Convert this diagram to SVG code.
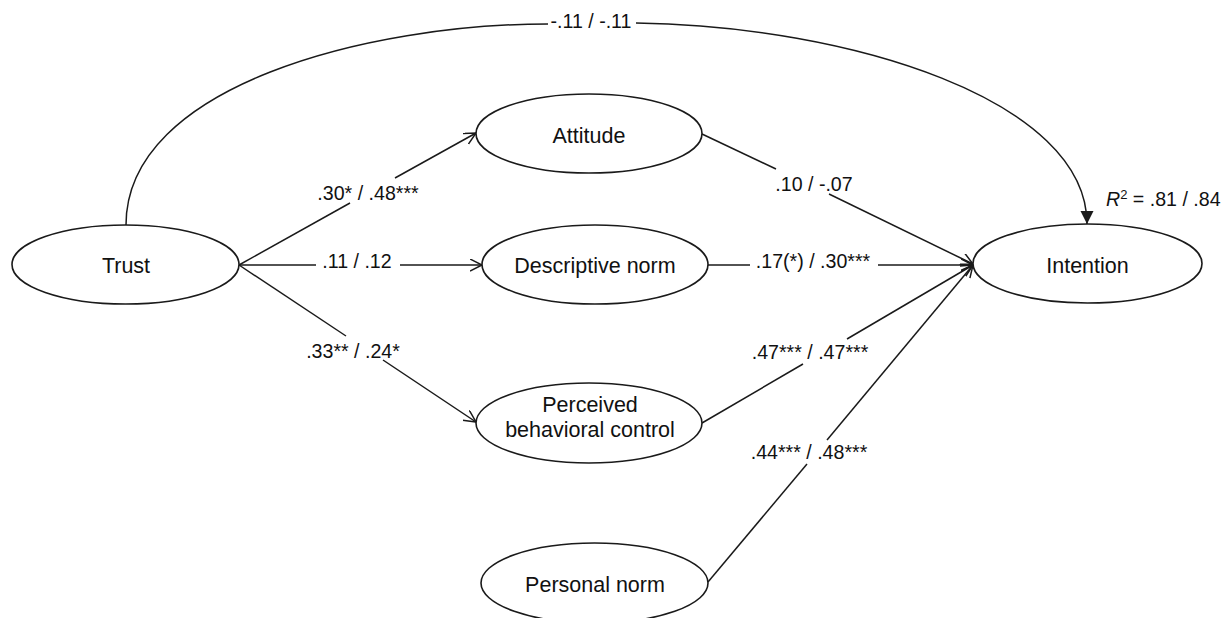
<svg xmlns="http://www.w3.org/2000/svg" width="1230" height="618" viewBox="0 0 1230 618">
<defs>
<style>
.node ellipse{fill:#fff;stroke:#1a1a1a;stroke-width:1.6}
.node text{font-family:"Liberation Sans",Arial,sans-serif;font-size:21.5px;fill:#111;text-anchor:middle}
.conn line,.conn path{stroke:#1a1a1a;stroke-width:1.5;fill:none}
.lbl{font-family:"Liberation Sans",Arial,sans-serif;font-size:19.6px;fill:#111;text-anchor:middle}
</style>
<marker id="open" markerWidth="14" markerHeight="14" refX="12" refY="6" orient="auto" markerUnits="userSpaceOnUse">
<path d="M0,0 L12,6 L0,12" fill="none" stroke="#1a1a1a" stroke-width="1.5"/>
</marker>
<marker id="filled" markerWidth="14" markerHeight="14" refX="13" refY="6.5" orient="auto" markerUnits="userSpaceOnUse">
<path d="M0,0 L13,6.5 L0,13 Z" fill="#1a1a1a"/>
</marker>
</defs>
<rect width="1230" height="618" fill="#fff"/>
<g id="connectors" class="conn">
<path d="M126,225 C126,85 370,24 548,24"/>
<path d="M636,23 C850,26 1087,100 1087,224" marker-end="url(#filled)"/>
<line x1="239" y1="265" x2="350" y2="203"/>
<line x1="395" y1="178" x2="476" y2="133" marker-end="url(#open)"/>
<line x1="239" y1="265" x2="316" y2="265"/>
<line x1="400" y1="265" x2="482" y2="265" marker-end="url(#open)"/>
<line x1="239" y1="265" x2="346" y2="336"/>
<line x1="383" y1="360" x2="476" y2="422" marker-end="url(#open)"/>
<line x1="702" y1="134" x2="776" y2="169"/>
<line x1="829" y1="194" x2="973" y2="264" marker-end="url(#open)"/>
<line x1="708" y1="265" x2="750" y2="265"/>
<line x1="878" y1="265" x2="973" y2="265" marker-end="url(#open)"/>
<line x1="702" y1="423" x2="803" y2="364"/>
<line x1="847" y1="339" x2="973" y2="265" marker-end="url(#open)"/>
<line x1="708" y1="582" x2="807" y2="464"/>
<line x1="827" y1="440" x2="973" y2="265" marker-end="url(#open)"/>
</g>
<g id="labels">
<text class="lbl" x="591" y="28">-.11 / -.11</text>
<text class="lbl" x="368" y="200">.30* / .48***</text>
<text class="lbl" x="357" y="268">.11 / .12</text>
<text class="lbl" x="353" y="358">.33** / .24*</text>
<text class="lbl" x="814" y="191">.10 / -.07</text>
<text class="lbl" x="813" y="268">.17(*) / .30***</text>
<text class="lbl" x="810" y="359">.47*** / .47***</text>
<text class="lbl" x="809" y="459">.44*** / .48***</text>
<text font-family="Liberation Sans, Arial, sans-serif" font-size="19.6" fill="#111" x="1106" y="206"><tspan font-style="italic">R</tspan><tspan font-size="13" dy="-7">2</tspan><tspan dy="7"> = .81 / .84</tspan></text>
</g>
<g id="trust" class="node"><ellipse cx="125.5" cy="264.5" rx="113.5" ry="39.5"/><text x="126" y="273">Trust</text></g>
<g id="attitude" class="node"><ellipse cx="589" cy="133.5" rx="113" ry="39.5"/><text x="589" y="143">Attitude</text></g>
<g id="descriptive-norm" class="node"><ellipse cx="595" cy="264.5" rx="113" ry="39.5"/><text x="595" y="273">Descriptive norm</text></g>
<g id="pbc" class="node"><ellipse cx="589" cy="423" rx="113" ry="40"/><text x="590" y="412">Perceived</text><text x="590" y="437">behavioral control</text></g>
<g id="personal-norm" class="node"><ellipse cx="594.5" cy="583" rx="113.5" ry="40"/><text x="595" y="592">Personal norm</text></g>
<g id="intention" class="node"><ellipse cx="1087.5" cy="263.5" rx="114.5" ry="39.5"/><text x="1087.5" y="273">Intention</text></g>
</svg>
